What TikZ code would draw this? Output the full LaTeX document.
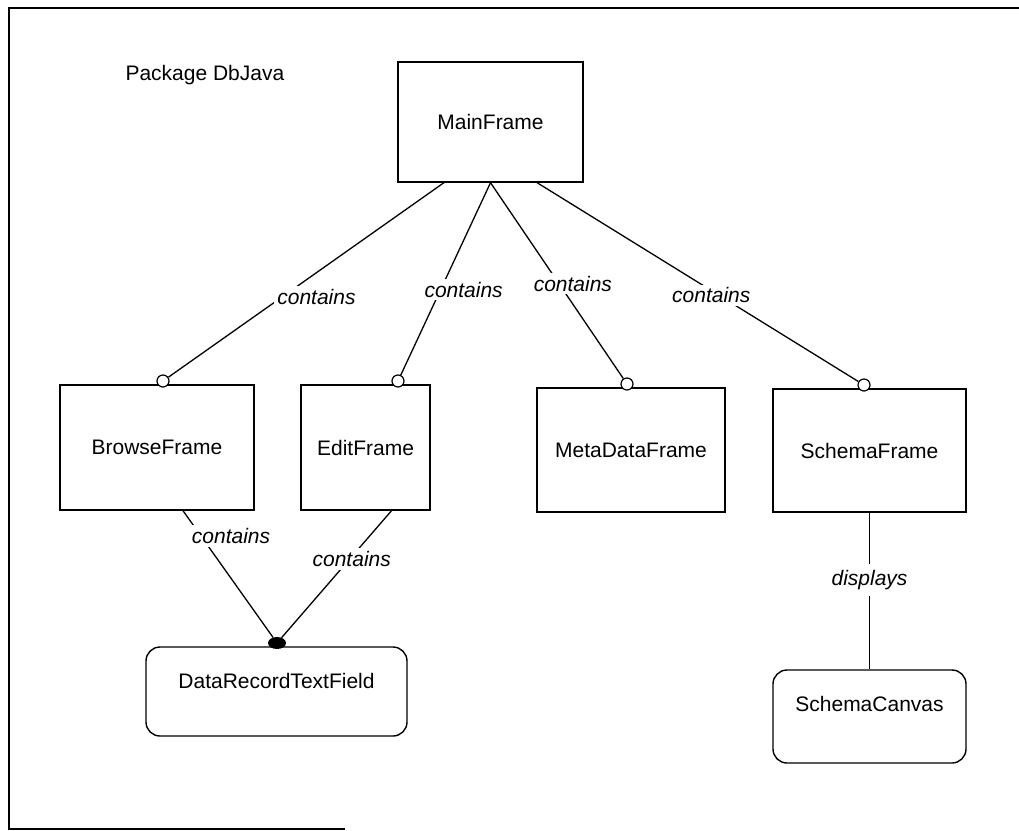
\documentclass[tikz,border=0pt]{standalone}
\usepackage{fontspec}
\setmainfont{Liberation Sans}
\usetikzlibrary{shapes.geometric,calc}
\begin{document}
\begin{tikzpicture}[x=1pt,y=-1pt,
  every node/.style={font=\fontsize{21}{25}\selectfont},
  cls/.style={draw, line width=1.4pt, inner sep=0pt},
  rcls/.style={cls, rounded corners=14pt},
  lab/.style={font=\fontsize{21}{25}\selectfont\itshape, fill=white, inner sep=3pt},
  conn/.style={line width=1.3pt},
  agg/.style={circle, draw, line width=1.2pt, fill=white, minimum size=12pt, inner sep=0pt},
  comp/.style={ellipse, fill=black, minimum width=18pt, minimum height=12pt, inner sep=0pt},
  frameline/.style={line width=2.5pt, line join=miter}]
\useasboundingbox (0,0) rectangle (1019,830);
% frame
\draw[frameline] (1019,8) -- (9,8) -- (9,829) -- (345,829);
\node[anchor=west] (pkg) at (122,75) {Package DbJava};
% classes
\node[cls, minimum width=185pt, minimum height=120pt] (main) at (490.5,122) {MainFrame};
\node[cls, minimum width=194pt, minimum height=125pt] (browse) at (157,447.5) {BrowseFrame};
\node[cls, minimum width=129pt, minimum height=125pt] (edit) at (365.5,447.5) {EditFrame};
\node[cls, minimum width=188pt, minimum height=124pt] (meta) at (631,450) {MetaDataFrame};
\node[cls, minimum width=193pt, minimum height=123pt] (schema) at (869.5,450.5) {SchemaFrame};
\node[rcls, minimum width=261pt, minimum height=89pt] (drtf) at (276.5,691.5) {\raisebox{22pt}{DataRecordTextField}};
\node[rcls, minimum width=193pt, minimum height=93pt] (canvas) at (869.5,716.5) {\raisebox{26pt}{SchemaCanvas}};
% aggregation ends
\node[agg] (cb) at (163,381) {};
\node[agg] (ce) at (398,381) {};
\node[agg] (cm) at (627,384) {};
\node[agg] (cs) at (864,385) {};
\node[comp] (dot) at (277,643) {};
% start points on MainFrame
\coordinate (m1) at ($(main.south west)!0.25!(main.south east)$);
\coordinate (m2) at ($(main.south west)!0.5!(main.south east)$);
\coordinate (m3) at ($(main.south west)!0.75!(main.south east)$);
% connectors
\draw[conn] (m1) -- node[lab, pos=.586, xshift=34pt] {contains} (cb);
\draw[conn] (m2) -- node[lab, pos=.556, xshift=23pt] {contains} (ce);
\draw[conn] (m2) -- node[lab, pos=.515, xshift=14pt] {contains} (cm);
\draw[conn] (m3) -- node[lab, pos=.567, xshift=-8pt] {contains} (cs);
\draw[conn] ([xshift=26pt]browse.south) -- node[lab, pos=.2, xshift=30pt] {contains} (dot);
\draw[conn] ([xshift=26pt]edit.south) -- node[lab, pos=.38, xshift=2pt] {contains} (dot);
\draw[conn] (schema.south) -- node[lab, pos=.43, inner ysep=6pt] {displays} (canvas.north);
\end{tikzpicture}
\end{document}
